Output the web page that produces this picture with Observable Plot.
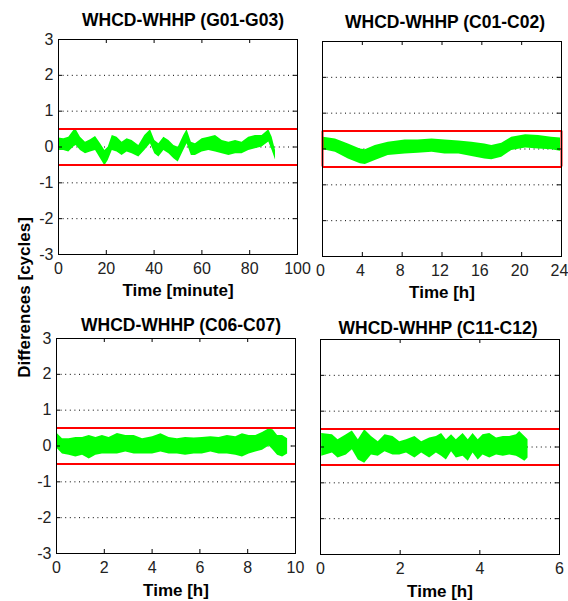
<!DOCTYPE html>
<html>
<head>
<meta charset="utf-8">
<script src="https://cdn.jsdelivr.net/npm/d3@7"></script>
<script src="https://cdn.jsdelivr.net/npm/@observablehq/plot@0.6"></script>
<style>
  html, body { margin: 0; padding: 0; background: #fff; overflow: hidden; }
  #chart { position: relative; width: 568px; height: 601px; overflow: hidden; background: #fff; }
  #chart svg.panel { position: absolute; }
</style>
</head>
<body>
<div id="chart"></div>
<script>
// ---- Data ----
const titles = ["WHCD-WHHP (G01-G03)", "WHCD-WHHP (C01-C02)", "WHCD-WHHP (C06-C07)", "WHCD-WHHP (C11-C12)"];
const xLabels = ["Time [minute]", "Time [h]", "Time [h]", "Time [h]"];
const yLabel = "Differences [cycles]";
const yTicks = [-3, -2, -1, 0, 1, 2, 3];
const gridLevels = [-2, -1, 0, 1, 2];
const limits = [-0.5, 0.5];

const xTicks1 = [0, 20, 40, 60, 80, 100];
const xTicks2 = [0, 4, 8, 12, 16, 20, 24];
const xTicks3 = [0, 2, 4, 6, 8, 10];
const xTicks4 = [0, 2, 4, 6];

// Panel 1 (G01-G03): time in minutes, upper / lower envelope of the difference band
const t1 = [0.1,2.2,4.3,6.4,7.4,9.2,11.3,13.4,15.5,17.6,19.4,20.8,22.5,24.5,26.6,28.7,30.8,33.6,36.1,38.5,40.3,42.0,44.1,46.2,48.3,50.1,52.4,53.8,55.6,57.3,60.1,62.9,65.7,68.5,71.3,74.1,76.8,79.6,82.4,85.2,88.0,89.4,90.8];
const hi1 = [0.25,0.23,0.27,0.46,0.48,0.27,0.13,0.20,0.29,0.09,-0.10,-0.01,0.32,0.27,0.13,0.23,0.18,0.04,0.32,0.48,0.18,0.09,0.27,0.18,0.04,-0.01,0.32,0.48,0.13,0.09,0.23,0.27,0.32,0.18,0.13,0.18,0.13,0.27,0.32,0.32,0.48,0.27,-0.10];
const lo1 = [-0.10,-0.10,-0.14,0.0,0.04,-0.10,-0.19,-0.14,-0.10,-0.33,-0.52,-0.38,-0.10,-0.14,-0.24,-0.14,-0.19,-0.28,-0.10,0.09,-0.19,-0.28,-0.10,-0.19,-0.33,-0.42,-0.10,0.09,-0.24,-0.24,-0.14,-0.10,-0.14,-0.19,-0.24,-0.19,-0.19,-0.10,-0.05,0.0,0.14,-0.10,-0.36];

// Panel 2 (C01-C02): time in hours
const t2 = [0.1,1.3,2.6,3.8,4.3,5.3,6.6,8.3,9.6,11.0,12.3,13.7,15.0,16.3,17.0,18.0,19.0,20.4,21.7,23.0,23.9];
const hi2 = [0.33,0.28,0.14,0.0,-0.02,0.10,0.19,0.25,0.25,0.28,0.25,0.22,0.19,0.14,0.10,0.16,0.33,0.40,0.38,0.33,0.31];
const lo2 = [-0.02,-0.09,-0.28,-0.41,-0.43,-0.32,-0.18,-0.14,-0.12,-0.09,-0.14,-0.14,-0.21,-0.28,-0.30,-0.23,-0.04,0.03,0.0,-0.02,-0.06];

// Panel 3 (C06-C07)
const t3 = [0.04,0.25,0.53,0.81,1.09,1.37,1.65,1.92,2.2,2.55,2.9,3.25,3.6,4.02,4.37,4.71,5.06,5.4,5.76,6.1,6.46,6.8,7.15,7.5,7.78,8.06,8.34,8.62,8.9,9.07,9.25,9.46,9.67];
const hi3 = [0.34,0.20,0.20,0.24,0.24,0.29,0.24,0.29,0.24,0.35,0.29,0.29,0.20,0.26,0.34,0.24,0.20,0.24,0.22,0.24,0.26,0.24,0.29,0.26,0.34,0.29,0.29,0.38,0.48,0.45,0.29,0.29,0.20];
const lo3 = [-0.08,-0.22,-0.26,-0.31,-0.26,-0.36,-0.26,-0.22,-0.22,-0.22,-0.17,-0.22,-0.22,-0.22,-0.17,-0.22,-0.22,-0.26,-0.22,-0.22,-0.17,-0.22,-0.22,-0.26,-0.31,-0.22,-0.17,-0.12,0.0,-0.12,-0.26,-0.31,-0.22];

// Panel 4 (C11-C12)
const t4 = [0.03,0.30,0.44,0.65,0.80,0.95,1.11,1.28,1.45,1.62,1.82,1.99,2.16,2.37,2.54,2.74,2.91,3.04,3.16,3.29,3.41,3.58,3.71,3.83,3.96,4.08,4.25,4.42,4.59,4.75,4.92,5.00,5.13,5.21];
const hi4 = [0.38,0.34,0.20,0.34,0.45,0.20,0.48,0.29,0.15,0.34,0.29,0.15,0.20,0.29,0.15,0.25,0.29,0.38,0.20,0.34,0.20,0.38,0.20,0.38,0.20,0.34,0.38,0.25,0.29,0.29,0.34,0.43,0.29,0.20];
const lo4 = [-0.26,-0.17,-0.31,-0.22,-0.08,-0.36,-0.45,-0.22,-0.26,-0.13,-0.22,-0.22,-0.17,-0.31,-0.17,-0.31,-0.17,-0.26,-0.36,-0.13,-0.31,-0.26,-0.40,-0.17,-0.36,-0.22,-0.31,-0.22,-0.26,-0.22,-0.26,-0.31,-0.40,-0.31];

// ---- Layout ----
const W = 239, H = 215;
const ML = 50, MT = 34, MR = 7, MB = 50;
const FONT = "'Liberation Sans', Arial, Helvetica, sans-serif";

const panels = [
  {title: titles[0], xLabel: xLabels[0], domain: [0, 100], xTicks: xTicks1, t: t1, hi: hi1, lo: lo1, left: 58, top: 39, yLabels: true, box: false, titleDy: -14, titleDx: 5, labelDy: 41, tickDx: 0},
  {title: titles[1], xLabel: xLabels[1], domain: [0, 24], xTicks: xTicks2, t: t2, hi: hi2, lo: lo2, left: 322, top: 41, yLabels: false, box: true, titleDy: -14, titleDx: 3, labelDy: 41, tickDx: -2},
  {title: titles[2], xLabel: xLabels[2], domain: [0, 10], xTicks: xTicks3, t: t3, hi: hi3, lo: lo3, left: 56, top: 338, yLabels: true, box: false, titleDy: -8, titleDx: 5, labelDy: 42, tickDx: 0},
  {title: titles[3], xLabel: xLabels[3], domain: [0, 6], xTicks: xTicks4, t: t4, hi: hi4, lo: lo4, left: 320, top: 339, yLabels: false, box: false, titleDy: -6, titleDx: -2, labelDy: 42, tickDx: 0}
];

const chart = document.getElementById("chart");

for (const p of panels) {
  const rows = p.t.map((t, i) => ({t, hi: p.hi[i], lo: p.lo[i]}));
  const xmax = p.domain[1];
  const marks = [
    Plot.ruleY(gridLevels, {y: d => d, stroke: "#000", strokeWidth: 1, strokeDasharray: "1,3.6"}),
    Plot.areaY(rows, {x: "t", y1: "lo", y2: "hi", fill: "#00ff00", curve: "linear"}),
    Plot.ruleY(limits, {y: d => d, stroke: "#ff0000", strokeWidth: 2})
  ];
  if (p.box) {
    marks.push(Plot.ruleX([p.domain[0], xmax], {x: d => d, y1: limits[0], y2: limits[1], stroke: "#ff0000", strokeWidth: 2}));
  }
  marks.push(
    Plot.frame({stroke: "#000", strokeWidth: 1}),
    Plot.tickX(p.xTicks, {x: d => d, insetTop: H - 4, stroke: "#000"}),
    Plot.tickX(p.xTicks, {x: d => d, insetBottom: H - 4, stroke: "#000"}),
    Plot.tickY(yTicks, {y: d => d, insetRight: W - 4, stroke: "#000"}),
    Plot.tickY(yTicks, {y: d => d, insetLeft: W - 4, stroke: "#000"}),
    Plot.axisX(p.xTicks, {tickSize: 0, tickPadding: 8, dx: p.tickDx, tickFormat: d => String(d), label: null, fontSize: 16, fill: "#222"}),
    Plot.text([p.title], {text: d => d, frameAnchor: "top", dy: p.titleDy, dx: p.titleDx, lineAnchor: "bottom", fontSize: 17.5, fontWeight: "bold", fill: "#000"}),
    Plot.text([p.xLabel], {text: d => d, frameAnchor: "bottom", dy: p.labelDy, lineAnchor: "bottom", fontSize: 17, fontWeight: "bold", fill: "#000"})
  );
  if (p.yLabels) {
    marks.push(Plot.axisY(yTicks, {tickSize: 0, tickPadding: 5, tickFormat: d => String(d), label: null, fontSize: 16, fill: "#222"}));
  }
  const svg = Plot.plot({
    width: ML + W + MR,
    height: MT + H + MB,
    marginLeft: ML, marginRight: MR, marginTop: MT, marginBottom: MB,
    x: {domain: p.domain},
    y: {domain: [-3, 3], axis: p.yLabels ? undefined : null},
    style: {background: "none", fontFamily: FONT, fontSize: "16px", color: "#000", overflow: "visible", maxWidth: "none"},
    marks
  });
  svg.classList.add("panel");
  svg.style.left = (p.left - ML) + "px";
  svg.style.top = (p.top - MT) + "px";
  chart.appendChild(svg);
}

// Shared y-axis label
const ns = "http://www.w3.org/2000/svg";
const lab = document.createElementNS(ns, "svg");
lab.setAttribute("width", 40);
lab.setAttribute("height", 601);
lab.style.position = "absolute";
lab.style.left = "0px";
lab.style.top = "0px";
const txt = document.createElementNS(ns, "text");
txt.setAttribute("transform", "translate(30,297.5) rotate(-90)");
txt.setAttribute("text-anchor", "middle");
txt.setAttribute("font-family", FONT);
txt.setAttribute("font-size", "17");
txt.setAttribute("font-weight", "bold");
txt.setAttribute("fill", "#000");
txt.textContent = yLabel;
lab.appendChild(txt);
chart.appendChild(lab);
</script>
</body>
</html>
